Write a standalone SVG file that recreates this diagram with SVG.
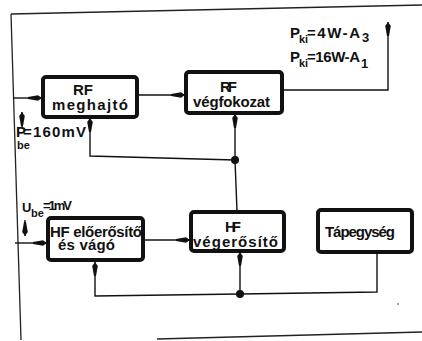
<svg xmlns="http://www.w3.org/2000/svg" width="422" height="341" viewBox="0 0 422 341">
<style>
.box{fill:#fff;stroke:#111;stroke-width:4;}
.ln{fill:none;stroke:#111;stroke-width:1.4;}
.fr{fill:none;stroke:#222;stroke-width:1.3;}
.t{font-family:"Liberation Sans",Arial,sans-serif;font-weight:bold;font-size:15px;fill:#111;}
.s{font-family:"Liberation Sans",Arial,sans-serif;font-weight:bold;font-size:11px;fill:#111;}
</style>
<defs>
<marker id="ah" viewBox="-15 -4 16 8" refX="0" refY="0" markerUnits="userSpaceOnUse" markerWidth="16" markerHeight="8" orient="auto">
<path d="M-14,-1 L-4,-2.8 L0,0 L-4,2.8 L-14,1 Z" fill="#111"/>
</marker>
</defs>
<rect width="422" height="341" fill="#fff"/>
<g id="frame">
<path class="fr" d="M11,14 L422,5"/>
<path class="fr" d="M11,14 L21,340"/>
<path class="fr" d="M157,339 L422,332"/>
<circle cx="398" cy="304" r="0.8" fill="#333"/>
</g>
<g id="connectors">
<path class="ln" d="M13,98 H42" marker-end="url(#ah)"/>
<path class="ln" d="M22,128 V112" marker-end="url(#ah)"/>
<path class="ln" d="M138,95 H185" marker-end="url(#ah)"/>
<path class="ln" d="M283,90 H388 V22" marker-end="url(#ah)"/>
<path class="ln" d="M235,160 L90,156 V118" marker-end="url(#ah)"/>
<path class="ln" d="M235,160 V114" marker-end="url(#ah)"/>
<path class="ln" d="M235,160 L237,211"/>
<circle cx="235" cy="160" r="4" fill="#111"/>
<path class="ln" d="M15,243 H47" marker-end="url(#ah)"/>
<path class="ln" d="M25,220 V236" marker-end="url(#ah)"/>
<path class="ln" d="M144,240 H190" marker-end="url(#ah)"/>
<path class="ln" d="M377,253 V292 L240,294 L95,296 V262" marker-end="url(#ah)"/>
<path class="ln" d="M240,294 V252" marker-end="url(#ah)"/>
<circle cx="240" cy="294" r="4" fill="#111"/>
</g>
<g id="rf-meghajto">
<rect class="box" x="43" y="77" width="94" height="40" rx="3"/>
<text class="t" x="73" y="95" textLength="20">RF</text>
<text class="t" x="52" y="110" textLength="76">meghajtó</text>
</g>
<g id="rf-vegfokozat">
<rect class="box" x="186" y="72" width="96" height="41" rx="3"/>
<text class="t" x="220" y="92" textLength="17">RF</text>
<text class="t" x="193" y="107" textLength="77">végfokozat</text>
</g>
<g id="hf-eloerosito">
<rect class="box" x="48" y="218" width="95" height="42" rx="3"/>
<text class="t" x="50" y="237" textLength="92">HF előerősítő</text>
<text class="t" x="58" y="250" textLength="57">és vágó</text>
</g>
<g id="hf-vegerosito">
<rect class="box" x="191" y="212" width="93" height="39" rx="3"/>
<text class="t" x="225" y="232" textLength="16">HF</text>
<text class="t" x="193" y="247" textLength="85">végerősítő</text>
</g>
<g id="tapegyseg">
<rect class="box" x="318" y="210" width="94" height="42" rx="3"/>
<text class="t" x="325" y="237" textLength="70">Tápegység</text>
</g>
<g id="labels">
<text class="t"><tspan x="16" y="137">P</tspan><tspan class="s" x="17" y="149" font-size="12">be</tspan><tspan x="23" y="137" textLength="63">=160mV</tspan></text>
<text class="t" font-size="13"><tspan x="22" y="212" style="font-size:13px">U</tspan><tspan class="s" x="31" y="217">be</tspan><tspan x="43" y="210" style="font-size:13px" textLength="29">=1mV</tspan></text>
<text class="t"><tspan x="290" y="38">P</tspan><tspan class="s" x="299" y="43">ki</tspan><tspan x="307" y="38" textLength="53">=4W-A</tspan><tspan x="362" y="42" style="font-size:13px">3</tspan></text>
<text class="t"><tspan x="290" y="62">P</tspan><tspan class="s" x="299" y="67">ki</tspan><tspan x="307" y="62" textLength="53">=16W-A</tspan><tspan x="361" y="68" style="font-size:13px">1</tspan></text>
</g>
</svg>
